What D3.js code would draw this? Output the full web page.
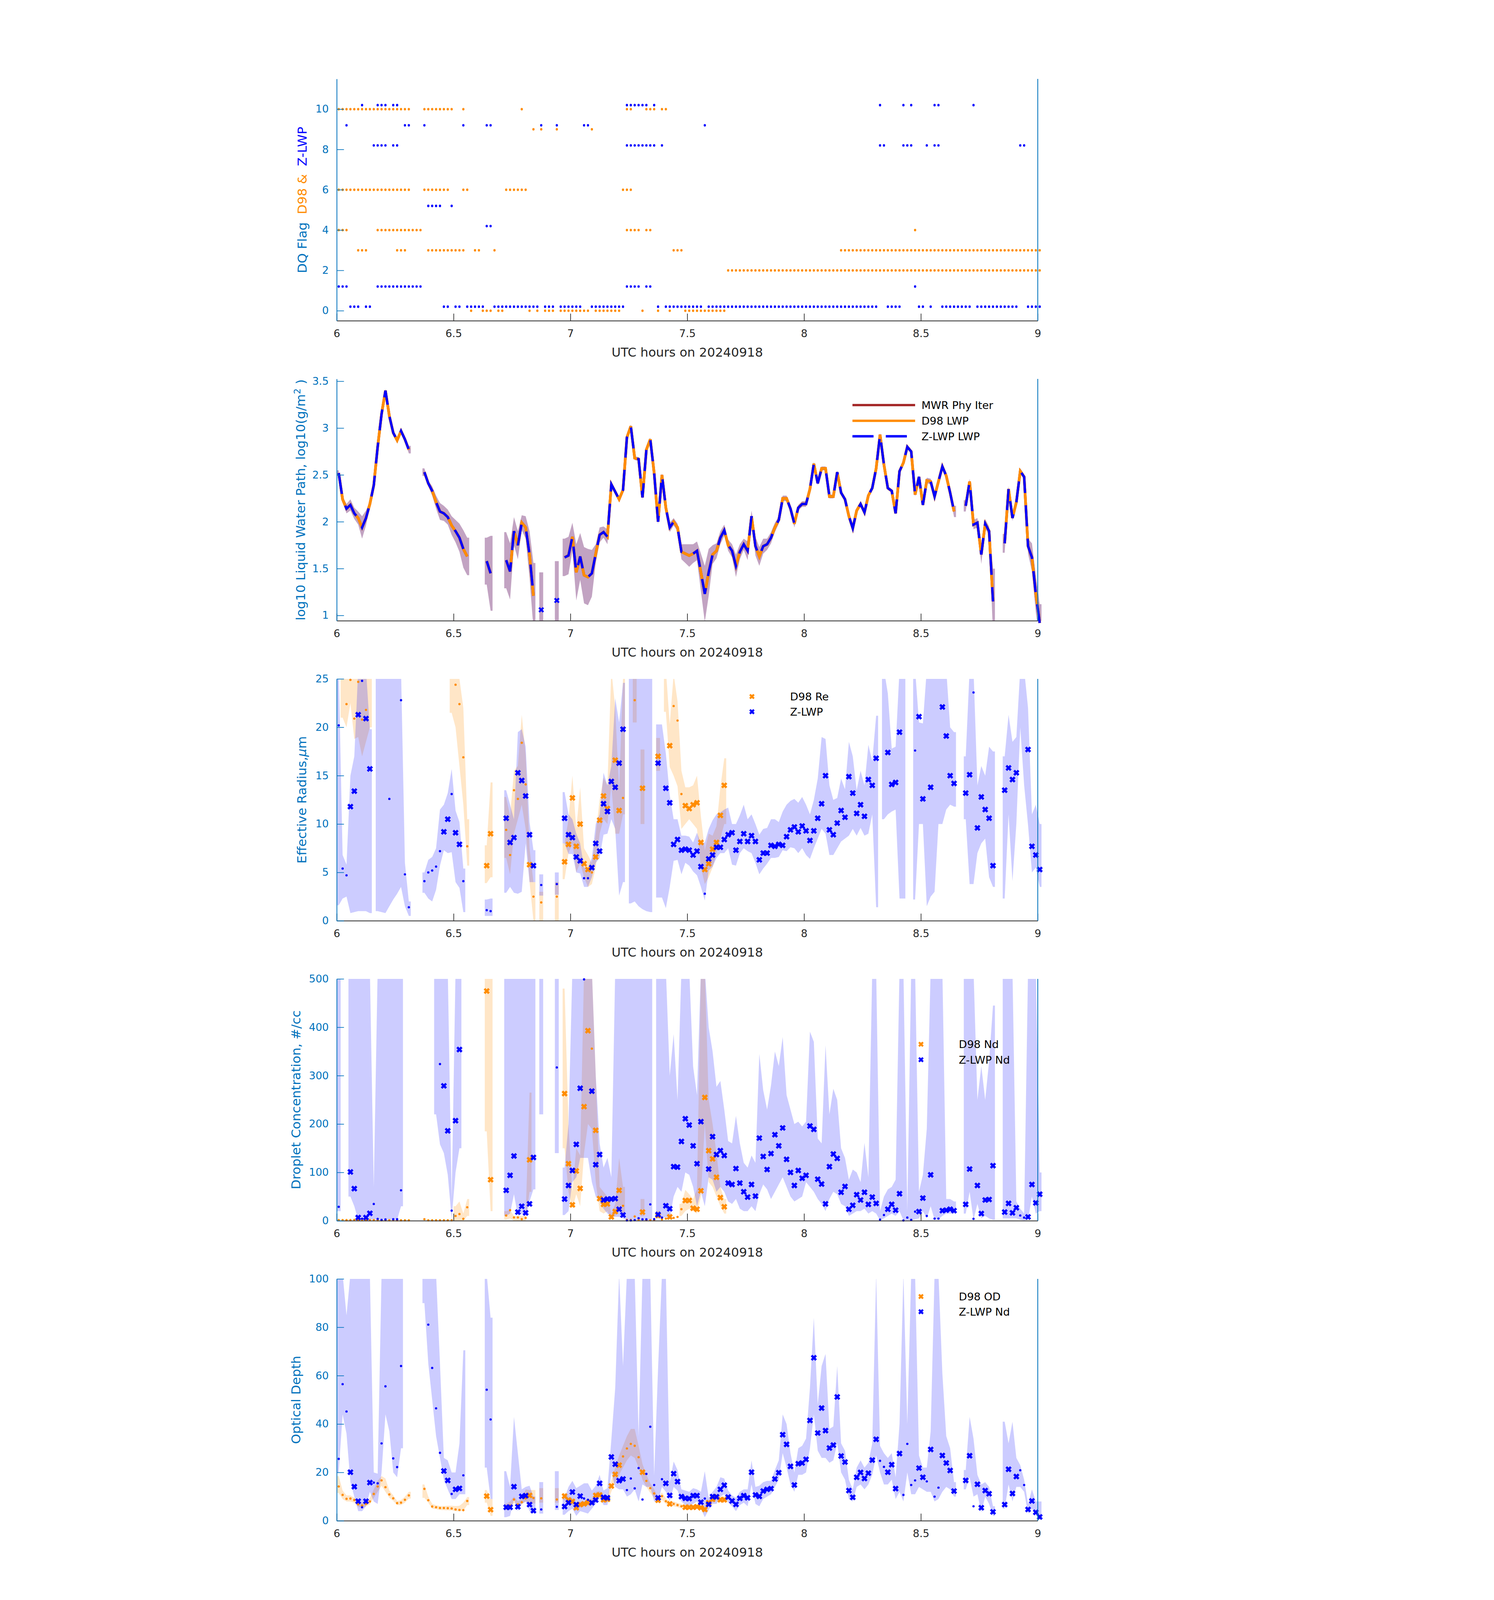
<!DOCTYPE html>
<html>
<head>
<meta charset="utf-8">
<script src="https://cdnjs.cloudflare.com/ajax/libs/d3/7.8.5/d3.min.js"></script>
<style>
  html, body { margin: 0; padding: 0; background: #fff; overflow: hidden; }
  #chart svg { display: block; }
  text { font-family: "DejaVu Sans", sans-serif; }
</style>
</head>
<body>
<div id="chart"></div>
<script>
const _ = null;

// ---- sampling: one value per minute starting 06:00 UTC ----
const startHour = 6;
const nSamples = 181;
const hourTicks = [6, 6.5, 7, 7.5, 8, 8.5, 9];
const xLabel = "UTC hours on 20240918";

// ---- panel 1: DQ flags, given as runs of sample indices [first, last] per flag value ----
const d98Flag10 = [[0,18],[22,29],[32],[47],[74,75],[79,81],[83,84]];
const d98Flag9  = [[50],[52],[56],[65]];
const d98Flag6  = [[0,18],[22,28],[32,33],[43,48],[73,75]];
const d98Flag4  = [[0,2],[10,21],[74,77],[79,80],[148]];
const d98Flag3  = [[5,7],[15,17],[23,32],[35,36],[40],[86,88],[129,180]];
const d98Flag2  = [[100,180]];
const d98Flag0  = [[34],[37,39],[41,42],[49],[51],[53,55],[57,64],[66,72],[78],[82],[85],[89,99]];

const zFlag10 = [[6],[10,12],[14,15],[74,79],[81],[139],[145],[147],[153,154],[163]];
const zFlag9  = [[2],[17,18],[22],[32],[38,39],[52],[56],[63,64],[94]];
const zFlag8  = [[9,12],[14,15],[74,81],[83],[139,140],[145,147],[151],[153,154],[175,176]];
const zFlag5  = [[23,26],[29]];
const zFlag4  = [[38,39]];
const zFlag1  = [[0,2],[10,21],[74,77],[79,80],[148]];
const zFlag0  = [[3,5],[7,8],[27,28],[30,31],[33,37],[40,51],[53,55],[57,62],[65,73],[82],[84,93],
                 [95,138],[141,144],[149,150],[152],[155,162],[164,174],[177,180]];

// ---- panel 2: log10 LWP (MWR, D98 and Z-LWP overlap at this scale) and its uncertainty ----
const lwp = [
 2.52,2.24,2.14,2.18,2.09,2.04,1.94,2.04,2.19,2.39,
 2.80,3.15,3.40,3.13,2.95,2.87,2.97,2.88,2.77,_,
 _,_,2.53,2.41,2.33,2.21,2.11,2.09,2.05,1.96,
 1.90,1.83,1.71,1.63,_,_,_,_,1.58,1.45,
 _,_,_,1.59,1.47,1.90,1.75,1.99,1.94,1.65,
 1.21,_,1.06,_,_,_,1.16,_,1.62,1.64,
 1.84,1.46,1.63,1.43,1.41,1.45,1.66,1.86,1.89,1.84,
 2.40,2.32,2.24,2.34,2.90,3.02,2.68,2.67,2.26,2.77,
 2.88,2.52,2.00,2.50,2.15,1.94,2.00,1.94,1.68,1.66,
 1.64,1.66,1.69,1.46,1.23,1.46,1.65,1.69,1.83,1.91,
 1.75,1.69,1.53,1.68,1.76,1.69,2.06,1.74,1.63,1.74,
 1.76,1.83,1.94,2.02,2.25,2.25,2.14,1.98,2.15,2.19,
 2.19,2.35,2.62,2.41,2.57,2.57,2.27,2.27,2.53,2.31,
 2.24,2.06,1.93,2.12,2.19,2.10,2.28,2.36,2.57,2.93,
 2.61,2.36,2.33,2.09,2.54,2.63,2.80,2.75,2.29,2.48,
 2.18,2.44,2.43,2.27,2.43,2.59,2.49,2.31,2.11,_,
 _,2.17,2.43,1.97,1.99,1.65,1.98,1.90,1.15,_,
 _,1.77,2.35,2.04,2.21,2.54,2.48,1.74,1.62,1.23,
 0.92
];
const lwpMwr = lwp, lwpD98 = lwp, lwpZ = lwp;
const lwpErr = [
 .03,.03,.05,.06,.06,.07,.12,.08,.03,.02,
 .02,.02,.02,.02,.02,.02,.02,.02,.04,_,
 _,_,.04,.03,.05,.07,.09,.08,.08,.10,
 .12,.15,.20,.20,_,_,_,_,.25,.40,
 _,_,_,.30,.30,.15,.15,.08,.12,.25,
 .35,_,.40,_,_,_,.42,_,.20,.20,
 .15,.30,.25,.30,.30,.25,.10,.08,.06,.08,
 .02,.02,.02,.02,.02,.02,.02,.02,.03,.02,
 .02,.02,.03,.02,.03,.05,.04,.04,.08,.10,
 .12,.10,.10,.20,.30,.25,.10,.08,.07,.06,
 .06,.07,.12,.08,.06,.10,.06,.10,.10,.08,
 .06,.06,.05,.04,.03,.03,.03,.04,.03,.03,
 .03,.02,.02,.02,.02,.02,.02,.02,.02,.02,
 .02,.03,.03,.03,.03,.03,.02,.02,.02,.02,
 .02,.02,.02,.02,.02,.02,.02,.02,.02,.02,
 .02,.03,.03,.03,.02,.02,.02,.03,.06,_,
 _,.06,.03,.05,.05,.10,.05,.05,.35,_,
 _,.10,.03,.03,.03,.03,.03,.08,.15,.20,
 .20
];

// ---- panel 3: effective radius (um) ----
const reZ = [
 20.2,5.4,4.7,11.8,13.4,21.3,24.8,20.9,15.7,_,
 _,_,_,12.6,_,_,22.8,4.8,1.4,_,
 _,_,4.1,5.0,5.2,5.6,7.2,9.2,10.5,13.1,
 9.1,7.9,4.1,_,_,_,_,_,1.1,1.0,
 _,_,_,10.6,8.1,8.6,15.3,14.5,12.9,8.9,
 5.7,_,3.7,_,_,_,3.8,_,10.6,8.9,
 8.6,6.6,6.2,4.4,4.4,5.5,8.0,7.2,12.1,11.3,
 14.4,13.8,16.3,19.8,_,_,_,_,_,_,
 _,_,16.3,_,13.7,12.2,7.9,8.4,7.3,7.4,
 7.3,6.8,7.2,5.6,2.8,6.4,6.8,7.6,7.6,8.4,
 8.9,9.1,7.3,8.2,9.0,8.2,8.8,8.2,6.3,7.0,
 7.0,7.8,7.7,7.9,7.8,8.7,9.4,9.7,9.2,9.8,
 9.3,8.3,9.3,10.6,12.1,15.0,9.4,8.9,10.1,11.4,
 10.7,14.9,13.2,11.1,12.0,10.8,14.6,14.0,16.8,_,
 _,17.4,14.1,14.3,19.5,_,_,_,17.6,21.1,
 12.6,_,13.8,_,_,22.1,19.1,15.0,14.2,_,
 _,13.2,15.1,23.6,9.6,12.8,11.5,10.6,5.7,_,
 _,13.5,15.8,14.6,15.3,_,_,17.7,7.7,6.8,
 5.3
];
const reZLo = [
 1.6,2.3,2.5,0.8,0.9,1.0,1.0,1.0,0.8,_,
 1.0,0.9,0.8,1.5,2.2,2.8,3.5,1.5,0.5,_,
 _,_,2.9,2.3,2.0,3.2,5.7,7.3,7.0,7.1,
 4.0,3.4,0.9,_,_,_,_,_,0.5,0.5,
 _,_,_,2.9,3.5,2.9,2.8,3.0,8.0,4.0,
 4.0,_,2.6,_,_,_,2.7,_,8.0,6.9,
 6.9,5.0,4.9,3.5,3.5,4.5,6.0,6.5,8.9,9.0,
 10.5,9.5,2.6,4.0,_,1.8,2.0,1.5,1.2,1.0,
 0.9,_,2.4,2.4,1.3,3.5,6.2,6.3,4.8,6.0,
 5.7,5.1,4.7,3.5,2.1,5.2,5.6,6.5,7.0,7.0,
 7.5,5.8,5.7,7.0,7.5,7.2,7.0,6.0,4.8,5.4,
 5.9,6.5,6.5,6.6,7.3,7.2,7.6,7.5,7.0,7.5,
 6.8,6.4,7.5,8.5,9.5,9.0,6.8,6.8,7.5,8.2,
 8.5,8.8,9.5,8.8,9.6,8.8,9.0,11.0,1.4,_,
 10.5,11.0,11.3,11.5,2.3,2.3,_,_,2.2,10.0,
 10.0,1.5,2.5,3.0,10.0,10.0,11.5,12.0,11.8,_,
 _,10.5,3.8,3.8,7.0,8.0,8.5,4.5,3.5,_,
 _,2.3,11.0,4.1,10.0,20.0,14.0,9.9,5.0,5.5,
 3.5
];
const reZHi = [
 26,6.8,5.8,15.0,17.0,26,26,26,19.8,_,
 26,26,26,26,26,26,26,6.0,2.0,_,
 _,_,5.0,6.3,6.6,7.5,11.5,12.0,13.2,15.7,
 11.4,10.2,5.4,_,_,_,_,_,2.2,2.3,
 _,_,_,13.5,12.0,10.5,19.5,19.8,18.0,10.2,
 7.3,_,4.8,_,_,_,5.0,_,13.3,11.0,
 10.5,9.0,8.0,5.5,5.5,6.5,10.0,11.0,15.3,14.0,
 16.0,23.0,20.5,24.6,_,26,26,26,26,26,
 26,_,20.3,20.3,17.3,13.0,10.5,10.5,8.8,8.8,
 8.7,8.1,9.1,8.0,8.1,9.5,10.4,11.0,11.2,11.5,
 11.7,10.0,10.0,10.9,12.0,10.5,11.0,10.0,8.9,9.5,
 9.6,10.5,10.5,10.2,11.3,12.0,12.4,12.6,12.2,12.8,
 12.0,11.0,12.5,14.7,19.0,18.8,14.0,12.5,12.7,14.7,
 13.6,18.5,17.0,13.5,15.5,14.0,18.2,16.5,21.2,_,
 26,23.5,17.8,18.0,26,26,_,_,26,20.5,
 20.4,26,26,26,26,26,26,20.0,19.5,_,
 _,17.0,26,26,14.0,16.0,15.0,18.0,17.5,_,
 _,17.0,21.3,18.5,19.0,26,26,22.0,11.0,12.0,
 10.0
];
const reD = [
 _,_,22.4,24.9,20.9,24.7,20.8,21.8,_,_,
 _,_,_,_,_,_,_,_,_,_,
 _,_,_,_,_,_,_,_,_,_,
 24.4,22.4,16.9,7.7,_,_,_,_,5.7,9.0,
 _,_,_,9.4,6.8,13.5,12.6,18.4,14.1,5.8,
 2.5,_,1.9,_,_,_,2.5,_,6.1,7.9,
 12.7,7.7,10.0,5.9,5.3,5.0,6.6,10.4,12.9,11.6,
 _,16.6,11.4,12.7,_,_,22.8,_,13.7,_,
 _,_,17.0,_,_,18.1,22.2,20.7,13.1,11.9,
 11.6,12.0,12.2,8.1,5.3,5.9,7.4,8.1,10.9,14.0
];
const reDLo = [
 _,21.0,20.0,22.5,18.8,19.0,17.0,18.5,20.0,_,
 _,_,_,_,_,_,_,_,_,_,
 _,_,_,_,_,_,_,_,_,21.5,
 20.0,16.0,12.0,5.7,_,_,_,_,3.9,4.5,
 _,_,_,6.5,4.8,9.0,10.5,12.0,9.5,4.0,
 0,_,0,_,_,_,0,_,4.3,7.0,
 8.0,5.0,6.0,4.5,3.5,3.8,5.5,9.0,10.5,10.0,
 14.0,9.0,9.0,11.0,_,_,20.5,_,10.0,_,
 _,_,15.5,_,21.6,15.9,15.0,13.9,9.5,10.0,
 10.5,10.0,9.5,5.5,3.8,4.5,5.5,7.0,8.5,10.0
];
const reDHi = [
 _,26,26,26,26,26,26,26,26,_,
 _,_,_,_,_,_,_,_,_,_,
 _,_,_,_,_,_,_,_,_,26,
 26,25,22.0,10.5,_,_,_,_,7.8,14.3,
 _,_,_,12.8,10.8,15.5,16.0,21.3,17.2,7.5,
 4.0,_,3.0,_,_,_,4.0,_,8.0,10.5,
 15.0,9.5,13.8,7.5,6.8,6.0,9.0,12.5,14.8,14.0,
 26,22.0,13.5,25,_,_,26,_,17.7,_,
 _,_,18.9,_,26,20.3,25.5,22.7,15.5,13.8,
 13.8,14.0,15.0,10.8,7.3,9.0,8.8,9.8,13.8,16.8
];

// ---- panel 4: droplet concentration (#/cc) ----
const ndZ = [
 28.9,_,_,101,66.5,6.7,4.2,6.7,15.5,34.8,
 3.9,1.8,2.8,_,3.2,3.2,63,_,_,_,
 _,_,_,_,_,_,324,279,186,21,
 207,354,_,_,_,_,_,_,_,_,
 _,_,_,63,94,134,18,30,16.5,35,
 131,_,_,_,_,_,317,_,45,73,
 104,158,274,499,_,268,116,137,43,45,
 45,46,24,12,0.7,0.7,1.4,5.2,3,3,
 34,3.5,13,6.7,31,25,112,111,164,211,
 198,155,118,205,_,107,174,137,145,135,
 78,75,108,78,60,49,75,51,171,133,
 106,139,178,155,192,127,100,73,104,88,
 94,196,189,86,76,35,112,138,129,59,
 71,24,32,54,43,59,34,49,36,2.5,
 12,24,34,22,56,0.7,6.7,1.8,19,19,
 47,10,95,4.5,4.5,21,22,24,21,_,
 _,34,107,4,73,15,43,44,114,_,
 _,18,36,16.5,27,11,6.7,8,75,37,
 55
];
const ndZLo = [
 20,_,_,50,30,2,2,2,2,2,
 2,2,2,2,2,2,30,_,_,_,
 _,_,_,_,_,220,158,140,95,5,
 100,150,_,_,_,_,_,_,_,_,
 _,_,_,10,15,55,10,15,10,40,
 65,_,220,_,_,_,140,_,12,20,
 80,90,130,130,130,80,50,40,25,15,
 10,8,8,5,1,1,1,1,1,1,
 1,_,5,5,8,5,50,70,60,100,
 95,70,30,60,30,90,85,60,70,60,
 40,35,45,25,20,20,30,20,55,75,
 65,45,60,75,90,70,50,40,45,50,
 80,70,60,45,35,20,45,60,55,35,
 30,10,15,20,20,25,15,20,15,1,
 5,10,15,10,20,1,1,1,3,5,
 20,5,30,2,3,10,15,15,15,_,
 _,15,60,2,35,5,10,5,2,_,
 _,5,5,5,5,2,1,2,50,15,
 20
];
const ndZHi = [
 520,_,_,520,520,520,520,520,520,70,
 520,520,520,520,520,520,520,_,_,_,
 _,_,_,_,_,520,520,520,520,45,
 520,520,_,_,_,_,_,_,_,_,
 _,_,_,520,520,520,520,520,500,520,
 520,_,520,_,_,_,520,_,110,200,
 520,520,520,520,520,520,300,160,110,130,
 90,520,520,520,520,520,520,520,520,520,
 520,_,520,520,520,300,386,250,520,520,
 520,319,260,520,520,400,350,277,289,230,
 165,160,217,160,120,110,135,120,345,270,
 230,280,350,320,380,260,230,200,205,195,
 205,391,370,170,160,363,220,273,250,150,
 130,85,106,100,80,161,90,520,520,20,
 50,65,70,85,520,520,20,520,520,60,
 95,190,520,520,520,520,45,45,40,_,
 _,520,520,520,250,320,250,330,445,_,
 _,520,520,520,40,25,15,520,520,520,
 100
];
const ndD = [
 1.5,1.5,1.5,1.5,1.8,1.5,1.5,1.5,1.5,1.5,
 1.2,1.2,1.2,1.2,1.2,1.0,1.0,1.0,1.0,_,
 _,_,3.2,1.0,1.0,1.0,1.0,1.0,1.0,1.0,
 10,14,4,28,_,_,_,_,475,85,
 _,_,_,11,22,7,7,3.5,6,126,
 _,_,_,_,_,_,_,_,263,118,
 33,103,67,236,393,356,187,46,34,35,
 8,19,63,31,2,2,9,2,18,1.5,
 1.5,1.5,11,3,4.5,8,6,8,24,42,
 42,26,24,62,255,145,128,90,48,29
];
const ndDLo = [
 _,_,_,_,_,_,_,_,_,_,
 _,_,_,_,_,_,_,_,_,_,
 _,_,_,_,_,_,_,_,_,_,
 0,0,0,10,_,_,_,_,185,20,
 _,_,_,2,5,0,0,0,0,60,
 _,_,_,_,_,_,_,_,150,60,
 25,55,30,140,200,190,80,20,15,20,
 2,10,30,10,_,_,_,_,10,_,
 _,_,5,_,_,3,_,_,10,20,
 25,20,15,50,200,80,70,50,30,15
];
const ndDHi = [
 _,_,_,_,_,_,_,_,_,_,
 _,_,_,_,_,_,_,_,_,_,
 _,_,_,_,_,_,_,_,_,_,
 30,40,15,45,_,_,_,_,520,520,
 _,_,_,20,22,10,10,10,10,265,
 _,_,_,_,_,_,_,_,480,200,
 60,150,135,520,520,520,300,70,60,50,
 15,35,130,70,_,_,_,_,45,_,
 _,_,20,_,_,15,_,_,35,64,
 55,45,65,520,520,250,200,140,70,45
];

// ---- panel 5: optical depth ----
const odZ = [
 25.6,56.5,45.2,20.1,14.1,8.1,5.6,8.1,15.8,15.8,
 15.5,32.0,55.6,_,25.8,22.2,64.0,_,_,_,
 _,_,_,81.1,63.2,46.5,28.1,20.6,16.7,11.1,
 13.0,13.4,18.8,_,_,_,_,_,54.2,41.9,
 _,_,_,5.6,5.6,14.1,5.8,10.1,10.4,6.7,
 4.2,_,4.7,_,_,_,5.8,_,5.9,7.5,
 11.9,6.7,10.2,9.2,8.7,7.5,8.6,15.5,9.7,9.5,
 26.4,23.4,16.6,17.3,12.7,17.5,13.4,21.8,8.8,19.4,
 38.9,14.8,9.5,17.2,15.5,10.5,19.5,16.2,10.0,9.3,
 9.2,10.4,10.4,7.7,9.2,6.8,10.0,9.9,13.0,14.7,
 9.8,8.2,6.8,9.3,10.4,9.5,20.1,10.7,10.1,12.3,
 13.0,13.3,17.3,19.9,35.6,31.6,22.5,14.8,23.6,23.9,
 25.4,41.5,67.4,36.3,46.6,37.3,30.1,31.3,51.2,26.8,
 24.3,12.5,9.7,18.0,20.0,17.5,19.7,25.1,33.7,24.8,
 22.3,20.1,23.2,13.3,27.8,10.7,31.8,14.8,16.7,21.8,
 18.0,16.3,29.5,10.0,13.7,27.0,23.9,20.8,12.3,_,
 _,16.7,26.9,6.0,15.1,5.4,12.5,11.2,3.7,_,
 _,6.7,21.3,11.3,18.3,20.9,14.8,4.7,8.2,3.5,
 1.6
];
const odZLo = [
 20,44,36,16,10,4,4,6,12,8,
 7,20,44,37,20,18,30,_,_,_,
 _,_,90,65,50,35,26,17,13,9,
 9,11,11,_,_,_,_,_,22,9,
 _,_,_,1.5,2,9,4,7,8,4,
 3,_,3,_,_,_,4.5,_,2.5,4,
 5,2,4,3.5,3,5,7,10,6.5,6.5,
 20,14,13,13,10,11,13,8,15,14,
 14,8,8,14,12,8,14,12.5,8,6.5,
 6.5,7,8,5,1.5,4.5,7,7,10,11,
 7.5,6,4,6.5,7.5,6,15,7,6,9,
 10,11,14,17,28,22,15,12,19,19,
 20,30,44,29,26,26,24,25,32,20,
 17,9,8,14,15,13,15,19,27,20,
 15,15,17,9,12,8,20,11,11,14,
 13,12,12,8,9,12,14,13,10,_,
 _,13,18,10,11,3.5,10,7,2,_,
 _,5,15,8,14,14,12,3,5,2.5,
 0.5
];
const odZHi = [
 102,102,85,102,102,102,102,102,102,20,
 19.5,102,102,102,102,102,102,_,_,_,
 _,_,102,102,102,102,65,26,25,20,
 20,32,70.5,_,_,_,_,_,102,84,
 _,_,_,20.5,14,43,28,13,14,14.5,
 10,_,16,_,_,_,20.5,_,9.5,14,
 16.5,13.5,14.5,15.5,15.5,12.5,14.5,19,12.5,13.5,
 33.5,55,102,64,102,102,102,35,102,102,
 102,18.8,63,102,102,16,24.5,21,13,12.5,
 12,13.5,13,12,20.5,9.5,12,14,18,17.5,
 12.5,10.5,9.5,12,13,13,25,14,14.5,16,
 16.5,16.5,21,25,44,40,28,20,30,31,
 34,55,84,48,64,69,38,39,64,32,
 29,17,13,22,25,22,24,32,102,31,
 28,26,28,18,40,102,40,102,102,27,
 22,22,37,102,102,61,35,30,16,_,
 _,21,43,34,19,15,16,14,6,_,
 _,41,32,41,26,23,17,7,13,8,
 8
];
const odD = [
 14.2,10.7,9.1,9.2,8.6,6.8,6.3,7.0,8.0,11.1,
 14.2,16.7,13.9,10.9,9.3,7.3,7.5,8.7,10.5,_,
 _,_,13.2,8.5,5.9,5.6,5.3,5.3,5.2,5.1,
 4.7,4.5,4.4,8.2,_,_,_,_,10.2,4.6,
 _,_,_,5.5,6.3,8.8,6.8,7.7,9.3,10.5,
 9.4,_,9.3,_,_,_,8.8,_,10.2,8.6,
 8.0,5.4,6.7,7.0,7.5,7.7,10.5,10.7,8.7,8.9,
 14.4,19.2,23.0,26.6,29.9,31.8,31.0,26.3,20.1,16.5,
 13.5,11.3,8.5,10.2,8.1,7.0,7.0,6.5,6.0,5.6,
 5.6,5.6,5.8,5.4,4.7,7.5,8.9,9.9,8.7,8.7
];
const odDLo = [
 11.5,9,8,8,7.5,5.8,5.3,6,6.8,9.5,
 12,14.5,12,9.5,8.2,6.5,6.5,7.5,9.2,_,
 _,_,9.5,7.5,5,4.8,4.5,4.4,4.3,4.3,
 4,3.9,4.2,6.5,_,_,_,_,7.5,2,
 _,_,_,4.5,5,7.5,6,6.8,8,7.2,
 7.2,_,7.5,_,_,_,7.5,_,8.5,7,
 6.5,4.5,5.5,6,6.3,6.5,9,9.2,7.5,7.6,
 12,16,19,22,25,27,26,22,17,14,
 11.5,9.6,7.3,8.7,7,6,6,5.6,5.2,4.8,
 4.8,4.8,5,4.6,3.5,6.4,7.6,8.5,7.5,7.5
];
const odDHi = [
 18.5,12.5,10.5,10.5,9.5,7.8,7.3,8,9.5,13,
 16.5,18.5,17.5,12.5,10.5,8.2,8.5,10,12,_,
 _,_,15,10,7,6.4,6.1,6.1,6.2,6.2,
 6.1,6.2,7.5,9.8,_,_,_,_,12.7,9,
 _,_,_,7,8,10,8,9,13,12.7,
 12.7,_,13.5,_,_,_,13.5,_,11.5,10,
 9.5,6.5,8,8,8.8,9,12,12.3,10,10.2,
 16.5,22,27,31,35,38,38,31,23.5,19,
 15.5,13,9.8,11.7,9.3,8,8,7.4,6.9,6.5,
 6.4,6.4,6.7,6.2,6,8.6,10.2,11.3,10,10
];

// ---- layout / style ----
const W = 3825, H = 6000;
const left = 374, right = 3003, panelH = 907;
const panelTops = [296, 1421, 2546, 3671, 4796];
const axisBlue = "#0072bd", axisDark = "#262626";
const orange = "#ff8c00", blue = "#0000ff", brown = "#a52a2a";

const hr = i => startHour + (i + 0.5) / 60;
const halfStep = 0.5 / 60;
const runsToSet = runs => new Set(d3.merge(runs.map(r => d3.range(r[0], (r[1] ?? r[0]) + 1))));
const d98Good = runsToSet(d98Flag0);
const zGood = runsToSet(zFlag0);

// the whole figure is kept inside the window, whatever height the window really has
const fitH = Math.min(H, window.innerHeight || H);
const fitW = Math.min(W, window.innerWidth || W);
const svg = d3.select("#chart").append("svg")
  .attr("width", fitW).attr("height", fitH)
  .attr("viewBox", `0 0 ${W} ${H}`)
  .attr("preserveAspectRatio", "xMidYMid meet")
  .style("background", "#fff");

const x = d3.scaleLinear().domain([6, 9]).range([left, right]);
const fmt = d3.format("~g");

function makePanel(k, domain) {
  const top = panelTops[k], bottom = top + panelH;
  const y = d3.scaleLinear().domain(domain).range([bottom, top]);
  const clipId = "clip" + k;
  svg.append("clipPath").attr("id", clipId)
    .append("rect").attr("x", left).attr("y", top)
    .attr("width", right - left + 14).attr("height", panelH);
  const g = svg.append("g");
  const clipped = g.append("g").attr("clip-path", `url(#${clipId})`);
  return { k, top, bottom, y, g, clipped };
}

function drawAxes(p, yTicks, labelFn, labelX) {
  const xa = p.g.append("g")
    .attr("transform", `translate(0,${p.bottom})`)
    .call(d3.axisBottom(x).tickValues(hourTicks).tickFormat(fmt)
      .tickSizeInner(-27).tickSizeOuter(0).tickPadding(34));
  xa.attr("font-size", 39).attr("font-family", "DejaVu Sans");
  xa.select(".domain").attr("stroke", axisDark).attr("stroke-width", 3);
  xa.selectAll(".tick line").attr("stroke", axisDark).attr("stroke-width", 2.5);
  xa.selectAll(".tick text").attr("fill", axisDark);

  const ya = p.g.append("g")
    .attr("transform", `translate(${left},0)`)
    .call(d3.axisLeft(p.y).tickValues(yTicks).tickFormat(fmt)
      .tickSizeInner(-27).tickSizeOuter(0).tickPadding(30));
  ya.attr("font-size", 39).attr("font-family", "DejaVu Sans");
  ya.select(".domain").attr("stroke", axisBlue).attr("stroke-width", 3);
  ya.selectAll(".tick line").attr("stroke", axisBlue).attr("stroke-width", 2.5);
  ya.selectAll(".tick text").attr("fill", axisBlue);

  p.g.append("line")
    .attr("x1", right).attr("x2", right).attr("y1", p.top).attr("y2", p.bottom)
    .attr("stroke", axisBlue).attr("stroke-width", 3);

  p.g.append("text")
    .attr("x", (left + right) / 2).attr("y", p.bottom + 134)
    .attr("text-anchor", "middle").attr("font-size", 47).attr("fill", axisDark)
    .text(xLabel);

  const ymid = (p.top + p.bottom) / 2;
  const t = p.g.append("text")
    .attr("x", labelX).attr("y", ymid)
    .attr("transform", `rotate(-90,${labelX},${ymid})`)
    .attr("text-anchor", "middle").attr("font-size", 48).attr("fill", axisBlue);
  labelFn(t);
}

function bandRuns(lo, hi) {
  const runs = [];
  let cur = null;
  for (let i = 0; i < nSamples; i++) {
    if (lo[i] != null && hi[i] != null) {
      if (!cur) { cur = []; runs.push(cur); }
      cur.push({ t: hr(i), lo: lo[i], hi: hi[i] });
    } else cur = null;
  }
  runs.forEach(r => {
    const first = r[0], last = r[r.length - 1];
    r.unshift({ ...first, t: first.t - halfStep });
    r.push({ ...last, t: last.t + halfStep });
  });
  return runs;
}

function drawBand(p, lo, hi, color, opacity) {
  const area = d3.area().x(d => x(d.t)).y0(d => p.y(d.lo)).y1(d => p.y(d.hi));
  p.clipped.append("g").selectAll("path")
    .data(bandRuns(lo, hi)).join("path")
    .attr("d", area).attr("fill", color).attr("fill-opacity", opacity);
}

const xPath = s => `M${-s},${-s}L${s},${s}M${-s},${s}L${s},${-s}`;

function drawPoints(p, vals, good, color) {
  const pts = vals.map((v, i) => ({ i, v })).filter(d => d.v != null);
  const g = p.g.append("g");
  g.selectAll("circle")
    .data(pts.filter(d => !good.has(d.i))).join("circle")
    .attr("cx", d => x(hr(d.i))).attr("cy", d => p.y(d.v))
    .attr("r", 4.3).attr("fill", color);
  g.selectAll("path")
    .data(pts.filter(d => good.has(d.i))).join("path")
    .attr("transform", d => `translate(${x(hr(d.i))},${p.y(d.v)})`)
    .attr("d", xPath(8.5)).attr("fill", "none")
    .attr("stroke", color).attr("stroke-width", 8.5);
}

function markerLegend(p, lx, tx, rows) {
  rows.forEach(r => {
    p.g.append("path")
      .attr("transform", `translate(${lx},${r.y})`)
      .attr("d", xPath(7.5)).attr("fill", "none")
      .attr("stroke", r.color).attr("stroke-width", 7.5);
    p.g.append("text")
      .attr("x", tx).attr("y", r.y).attr("dy", "0.36em")
      .attr("font-size", 40).attr("fill", "#000").text(r.text);
  });
}

// ================= Panel 1: DQ flags =================
{
  const p = makePanel(0, [-0.5, 11.5]);
  const flagTable = [
    { runs: d98Flag10, level: 10, color: orange, dy: 0 },
    { runs: d98Flag9, level: 9, color: orange, dy: 0 },
    { runs: d98Flag6, level: 6, color: orange, dy: 0 },
    { runs: d98Flag4, level: 4, color: orange, dy: 0 },
    { runs: d98Flag3, level: 3, color: orange, dy: 0 },
    { runs: d98Flag2, level: 2, color: orange, dy: 0 },
    { runs: d98Flag0, level: 0, color: orange, dy: 0 },
    { runs: zFlag10, level: 10, color: blue, dy: 0.2 },
    { runs: zFlag9, level: 9, color: blue, dy: 0.2 },
    { runs: zFlag8, level: 8, color: blue, dy: 0.2 },
    { runs: zFlag5, level: 5, color: blue, dy: 0.2 },
    { runs: zFlag4, level: 4, color: blue, dy: 0.2 },
    { runs: zFlag1, level: 1, color: blue, dy: 0.2 },
    { runs: zFlag0, level: 0, color: blue, dy: 0.2 }
  ];
  const dots = d3.merge(flagTable.map(f =>
    [...runsToSet(f.runs)].map(i => ({ i, v: f.level + f.dy, color: f.color }))));
  p.g.append("g").selectAll("ellipse").data(dots).join("ellipse")
    .attr("cx", d => x(hr(d.i))).attr("cy", d => p.y(d.v))
    .attr("rx", 4.2).attr("ry", 4.8).attr("fill", d => d.color);

  drawAxes(p, [0, 2, 4, 6, 8, 10], t => {
    t.append("tspan").attr("fill", axisBlue).text("DQ Flag");
    t.append("tspan").attr("fill", orange).attr("dx", 30).text("D98 &");
    t.append("tspan").attr("fill", blue).attr("dx", 30).text("Z-LWP");
  }, 261);
}

// ================= Panel 2: LWP =================
{
  const p = makePanel(1, [0.943, 3.525]);
  const line = d3.line().defined(d => d.v != null).x(d => x(hr(d.i))).y(d => p.y(d.v));
  const asPts = arr => arr.map((v, i) => ({ i, v }));

  p.g.append("path").datum(asPts(lwpMwr)).attr("d", line)
    .attr("fill", "none").attr("stroke", brown).attr("stroke-width", 10);
  p.g.append("path").datum(asPts(lwpD98)).attr("d", line)
    .attr("fill", "none").attr("stroke", orange).attr("stroke-width", 10);

  const lo = lwp.map((v, i) => v == null ? null : v - lwpErr[i]);
  const hi = lwp.map((v, i) => v == null ? null : v + lwpErr[i]);
  drawBand(p, lo, hi, "#7f3f7f", 0.48);

  p.g.append("path").datum(asPts(lwpZ)).attr("d", line)
    .attr("fill", "none").attr("stroke", blue).attr("stroke-width", 9)
    .attr("stroke-dasharray", "79,46");

  // isolated samples show up as markers only
  const lonely = asPts(lwpZ).filter(d => d.v != null && lwpZ[d.i - 1] == null && lwpZ[d.i + 1] == null);
  p.g.append("g").selectAll("path").data(lonely).join("path")
    .attr("transform", d => `translate(${x(hr(d.i))},${p.y(d.v)})`)
    .attr("d", xPath(8)).attr("fill", "none").attr("stroke", blue).attr("stroke-width", 7);

  const legendRows = [
    { y: 1519, color: brown, dash: null, text: "MWR Phy Iter" },
    { y: 1578, color: orange, dash: null, text: "D98 LWP" },
    { y: 1636, color: blue, dash: "79,46", text: "Z-LWP LWP" }
  ];
  legendRows.forEach(r => {
    p.g.append("line").attr("x1", 2308).attr("x2", 2543).attr("y1", r.y).attr("y2", r.y)
      .attr("stroke", r.color).attr("stroke-width", 9).attr("stroke-dasharray", r.dash);
    p.g.append("text").attr("x", 2567).attr("y", r.y).attr("dy", "0.36em")
      .attr("font-size", 40).attr("fill", "#000").text(r.text);
  });

  drawAxes(p, [1, 1.5, 2, 2.5, 3, 3.5], t => {
    t.append("tspan").text("log10 Liquid Water Path, log10(g/m");
    t.append("tspan").attr("font-size", 34).attr("dy", -18).text("2");
    t.append("tspan").attr("dy", 18).text(" )");
  }, 255);
}

// ================= Panels 3-5: retrievals =================
function retrievalPanel(k, domain, ticks, zv, zlo, zhi, dv, dlo, dhi, labelFn, labelX, legend) {
  const p = makePanel(k, domain);
  drawBand(p, dlo, dhi, orange, 0.22);
  drawPoints(p, dv, d98Good, orange);
  drawBand(p, zlo, zhi, blue, 0.2);
  drawPoints(p, zv, zGood, blue);
  markerLegend(p, legend.mx, legend.tx, legend.rows);
  drawAxes(p, ticks, labelFn, labelX);
}

retrievalPanel(2, [0, 25], [0, 5, 10, 15, 20, 25],
  reZ, reZLo, reZHi, reD, reDLo, reDHi,
  t => {
    t.append("tspan").text("Effective Radius,");
    t.append("tspan").attr("font-style", "italic").text("\u03bc");
    t.append("tspan").text("m");
  }, 260,
  { mx: 1931, tx: 2074, rows: [
    { y: 2612, color: orange, text: "D98 Re" },
    { y: 2669, color: blue, text: "Z-LWP" }] });

retrievalPanel(3, [0, 500], [0, 100, 200, 300, 400, 500],
  ndZ, ndZLo, ndZHi, ndD, ndDLo, ndDHi,
  t => t.text("Droplet Concentration, #/cc"), 237,
  { mx: 2565, tx: 2707, rows: [
    { y: 3916, color: orange, text: "D98 Nd" },
    { y: 3974, color: blue, text: "Z-LWP Nd" }] });

retrievalPanel(4, [0, 100], [0, 20, 40, 60, 80, 100],
  odZ, odZLo, odZHi, odD, odDLo, odDHi,
  t => t.text("Optical Depth"), 237,
  { mx: 2565, tx: 2707, rows: [
    { y: 4862, color: orange, text: "D98 OD" },
    { y: 4919, color: blue, text: "Z-LWP Nd" }] });
</script>
</body>
</html>
